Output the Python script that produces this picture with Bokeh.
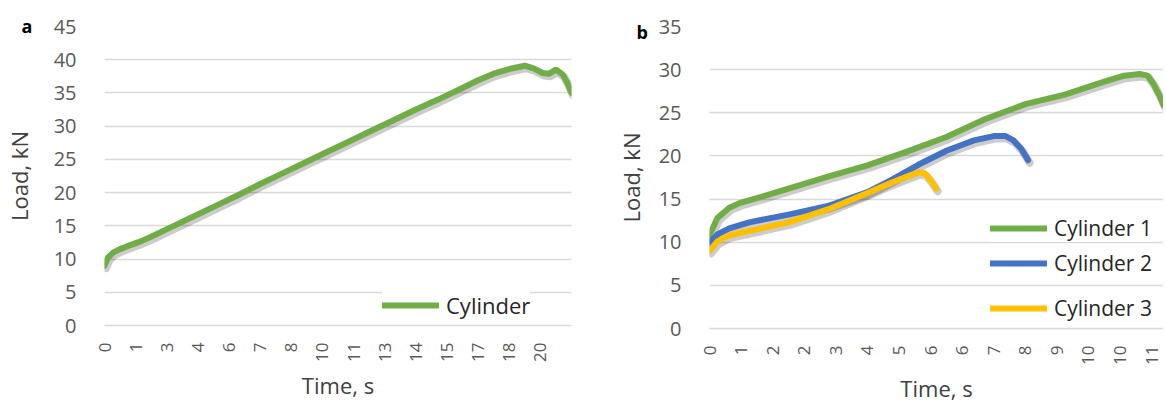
import numpy as np
from bokeh.plotting import figure
from bokeh.models import Legend, LegendItem, FixedTicker, Title, Range1d
from bokeh.layouts import row
from bokeh.embed import file_html
from bokeh.resources import INLINE

# ---------------- data: panel a ----------------
time_a = [0, 0.15, 0.4, 0.7, 1.0, 1.5, 2.0, 3.0, 4.0, 5.0, 6.0, 7.0, 8.0, 9.0, 10.0,
          11.0, 12.0, 13.0, 14.0, 15.0, 16.0, 16.8, 17.5, 18.2, 18.9, 19.3, 19.7,
          20.0, 20.3, 20.6, 20.8, 21.0]
load_a = [9.0, 10.2, 11.0, 11.5, 11.9, 12.5, 13.2, 14.8, 16.4, 18.0, 19.6, 21.3, 22.9,
          24.5, 26.1, 27.7, 29.3, 30.9, 32.5, 34.0, 35.6, 36.9, 37.9, 38.6, 39.1, 38.7,
          38.0, 37.9, 38.5, 37.8, 36.6, 35.0]
ticklabels_a = ["0", "1", "3", "4", "6", "7", "8", "10", "11", "13", "14", "15", "17", "18", "20"]
tickstep_a = 1.4      # seconds between labelled categories
tmax_a = 21.0
ymax_a = 45

# ---------------- data: panel b ----------------
time_b1 = [0, 0.2, 0.5, 0.8, 1.2, 2.0, 3.0, 4.0, 5.0, 6.0, 7.0, 8.0, 9.0, 10.0, 10.5,
           10.9, 11.1, 11.25, 11.4, 11.5]
load_b1 = [10.8, 12.8, 14.0, 14.6, 15.1, 16.2, 17.6, 18.9, 20.5, 22.2, 24.3, 26.0, 27.1,
           28.6, 29.3, 29.5, 29.3, 28.3, 27.0, 25.9]
time_b2 = [0, 0.2, 0.5, 1.0, 2.0, 3.0, 4.0, 4.6, 5.3, 6.0, 6.7, 7.2, 7.5, 7.7, 7.9, 8.07]
load_b2 = [9.9, 10.9, 11.6, 12.3, 13.2, 14.2, 15.8, 17.2, 19.0, 20.6, 21.8, 22.3, 22.3,
           21.8, 20.8, 19.5]
time_b3 = [0, 0.2, 0.5, 1.0, 2.0, 3.0, 4.0, 4.6, 5.0, 5.3, 5.45, 5.6, 5.74]
load_b3 = [9.0, 10.1, 10.8, 11.3, 12.3, 13.8, 15.7, 16.9, 17.6, 18.1, 18.0, 17.2, 16.2]
ticklabels_b = ["0", "1", "2", "2", "3", "4", "5", "6", "6", "7", "8", "9", "10", "10", "11"]
tickstep_b = 0.8
tmax_b = 11.5
ymax_b = 35

series_names_b = ["Cylinder 1", "Cylinder 2", "Cylinder 3"]

GREEN = "#70AD47"
BLUE = "#4472C4"
YELLOW = "#FFC000"
GRID = "#D9D9D9"
FONT = "Open Sans"


def make_panel(ticklabels, tickstep, tmax, ymax, fw, fh, bl, br, bt, bb,
               title_standoff, panel_letter, letter_offset, letter_standoff):
    p = figure(frame_width=fw, frame_height=fh, min_border_left=bl,
               min_border_right=br, min_border_top=bt, min_border_bottom=bb,
               output_backend="svg", toolbar_location=None,
               x_range=Range1d(0, tmax / tickstep), y_range=Range1d(0, ymax))
    p.outline_line_color = None
    p.background_fill_color = "white"
    p.border_fill_color = "white"
    p.xgrid.visible = False
    p.ygrid.grid_line_color = GRID
    p.ygrid.grid_line_width = 1.5
    p.ygrid.ticker = FixedTicker(ticks=list(range(0, ymax + 1, 5)))

    p.add_layout(Title(text=panel_letter, align="left", offset=letter_offset,
                       standoff=letter_standoff, text_font=FONT, text_font_size="18px",
                       text_font_style="bold", text_color="black",
                       vertical_align="bottom"), "above")

    ya = p.yaxis[0]
    ya.ticker = FixedTicker(ticks=list(range(0, ymax + 1, 5)))
    ya.axis_line_color = None
    ya.major_tick_line_color = None
    ya.minor_tick_line_color = None
    ya.major_label_standoff = 22
    ya.major_label_text_font = FONT
    ya.major_label_text_font_size = "20px"
    ya.major_label_text_color = "#595959"
    ya.axis_label = "Load, kN"
    ya.axis_label_text_font = FONT
    ya.axis_label_text_font_size = "22px"
    ya.axis_label_text_font_style = "normal"
    ya.axis_label_text_color = "#404040"
    ya.axis_label_standoff = title_standoff

    xa = p.xaxis[0]
    idx = list(range(len(ticklabels)))
    xa.ticker = FixedTicker(ticks=idx)
    xa.major_label_overrides = {i: lab for i, lab in zip(idx, ticklabels)}
    xa.major_label_orientation = np.pi / 2
    xa.axis_line_color = GRID
    xa.axis_line_width = 1.5
    xa.major_tick_line_color = None
    xa.minor_tick_line_color = None
    xa.major_label_standoff = 11
    xa.major_label_text_font = FONT
    xa.major_label_text_font_size = "17px"
    xa.major_label_text_color = "#595959"
    xa.axis_label = "Time, s"
    xa.axis_label_text_font = FONT
    xa.axis_label_text_font_size = "22px"
    xa.axis_label_text_font_style = "normal"
    xa.axis_label_text_color = "#404040"
    xa.axis_label_standoff = 5
    return p


def draw_series(p, t, v, tickstep, color, fw, fh, tmax, ymax):
    x = np.array(t) / tickstep
    y = np.array(v)
    # soft drop shadow, a few pixels below/right
    dx = 1.5 * (tmax / tickstep) / fw
    dy = 2.5 * ymax / fh
    p.line(x + dx, y - dy, line_color="black", line_alpha=0.2, line_width=8,
           line_cap="round", line_join="round")
    return p.line(x, y, line_color=color, line_width=6, line_cap="round",
                  line_join="round")


def add_legend(p, renderer, label, loc, size):
    lg = Legend(items=[LegendItem(label=label, renderers=[renderer])], location=loc,
                orientation="vertical", padding=0, margin=0, spacing=0,
                border_line_color=None, background_fill_color="white",
                background_fill_alpha=1.0, glyph_width=57, glyph_height=24,
                label_height=24, label_standoff=7, label_text_font=FONT,
                label_text_font_size=size, label_text_color="#262626")
    p.add_layout(lg, "center")


# ---------------- panel a ----------------
FW_A, FH_A = 467, 299
pa = make_panel(ticklabels_a, tickstep_a, tmax_a, ymax_a, FW_A, FH_A, 97, 11, 26, 70,
                17, "a", -83, -22)
ra = draw_series(pa, time_a, load_a, tickstep_a, GREEN, FW_A, FH_A, tmax_a, ymax_a)
add_legend(pa, ra, "Cylinder", (278, 5), "22px")

# ---------------- panel b ----------------
FW_B, FH_B = 454, 302
pb = make_panel(ticklabels_b, tickstep_b, tmax_b, ymax_b, FW_B, FH_B, 127, 0, 26, 67,
                10, "b", -73, -34)
rb1 = draw_series(pb, time_b1, load_b1, tickstep_b, GREEN, FW_B, FH_B, tmax_b, ymax_b)
rb2 = draw_series(pb, time_b2, load_b2, tickstep_b, BLUE, FW_B, FH_B, tmax_b, ymax_b)
rb3 = draw_series(pb, time_b3, load_b3, tickstep_b, YELLOW, FW_B, FH_B, tmax_b, ymax_b)
add_legend(pb, rb1, series_names_b[0], (281, 86), "21px")
add_legend(pb, rb2, series_names_b[1], (281, 51), "21px")
add_legend(pb, rb3, series_names_b[2], (281, 6), "21px")

layout = row(pa, pb)
open("out.html", "w").write(file_html(layout, INLINE))
